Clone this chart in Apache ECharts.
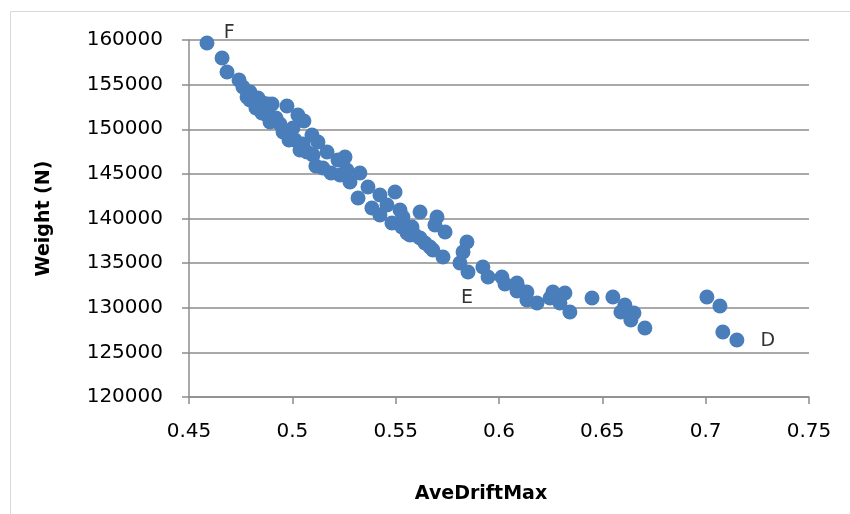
<!DOCTYPE html>
<html>
<head>
<meta charset="utf-8">
<script src="https://cdn.jsdelivr.net/npm/echarts@6/dist/echarts.min.js"></script>
<style>
html,body{margin:0;padding:0;background:#fff;}
#chart{width:850px;height:514px;}
</style>
</head>
<body>
<div id="chart"></div>
<script>
// AveDriftMax values
var driftX = [
0.4587,0.4660,0.4684,0.4742,0.4761,0.4795,0.4795,0.4834,0.4858,0.4882,
0.4877,0.4902,0.4974,0.5027,0.5056,0.4940,0.4955,0.4921,0.5013,0.5095,
0.5124,0.5071,0.5168,0.5148,0.5221,0.5255,0.5264,0.5231,0.5327,0.5279,
0.5366,0.5318,0.5424,0.5497,0.5385,0.5458,0.5424,0.5521,0.5482,0.5530,
0.5618,0.5579,0.5569,0.5700,0.5690,0.5739,0.5618,0.5666,0.5729,0.5535,
0.5555,0.5593,0.5642,0.5680,0.5845,0.5826,0.5811,0.5850,0.5922,0.5947,
0.6014,0.6029,0.6087,0.6087,0.6101,0.6135,0.6135,0.6184,0.6261,0.6247,
0.6319,0.6295,0.6343,0.6450,0.6551,0.6609,0.6590,0.6653,0.6638,0.6706,
0.7006,0.7069,0.7083,0.7151,
0.5003,0.5052,0.5100,0.5187,0.5114,0.4781,0.4824,0.4853,0.4892,0.4984,0.5037
];
// Weight (N) values
var weightY = [
159660,157980,156420,155520,154730,154170,153280,153500,152940,152830,
151600,152830,152600,151600,150930,150590,149690,151260,148800,149360,
148570,147450,147450,145660,146560,146890,145440,144880,145100,144090,
143530,142300,142630,142970,141180,141510,140390,140950,139500,139050,
140730,139050,138150,140170,139270,138490,137820,136810,135690,140170,
138380,138150,137260,136470,137370,136250,135020,134010,134570,133450,
133450,132660,132770,131880,131990,131770,130870,130530,131770,131090,
131650,130530,129530,131090,131210,130310,129530,129410,128630,127730,
131210,130200,127290,126390,
150140,148350,147120,145100,145880,153610,152380,151820,150810,148800,147680
];
// Point annotations (label text and where the text sits in data units)
var noteText = ['F','E','D'];
var noteX = [0.4694,0.5845,0.7301];
var noteY = [160790,131090,126280];
// Axis ticks
var xTicks = [0.45,0.5,0.55,0.6,0.65,0.7,0.75];
var yTicks = [120000,125000,130000,135000,140000,145000,150000,155000,160000];

var pts = driftX.map(function(x,i){return [x, weightY[i]];});
var notes = noteText.map(function(t,i){return {name:t, value:[noteX[i], noteY[i]]};});

var chart = echarts.init(document.getElementById('chart'), null, {renderer:'canvas'});
var gridColor = '#8c8c8c';
var tickFont = 'DejaVu Sans';
chart.setOption({
  animation:false,
  backgroundColor:'#ffffff',
  graphic:[{type:'rect', shape:{x:10.5,y:11.5,width:860,height:520}, style:{fill:'none', stroke:'#d9d9d9', lineWidth:1}, silent:true}],
  grid:{left:189, right:41, top:40, bottom:117, containLabel:false},
  xAxis:{
    type:'value', min:xTicks[0], max:xTicks[xTicks.length-1], interval:0.05,
    name:'AveDriftMax', nameLocation:'middle', nameGap:88,
    nameTextStyle:{fontFamily:tickFont, fontWeight:'bold', fontSize:19, color:'#000', padding:[0,36,0,0]},
    axisLine:{show:true, lineStyle:{color:gridColor, width:1.5}},
    axisTick:{show:true, length:7, lineStyle:{color:gridColor, width:1.5}},
    axisLabel:{margin:25, fontFamily:tickFont, fontSize:20, color:'#000',
      formatter:function(v){return String(+v.toFixed(2));}},
    splitLine:{show:false}
  },
  yAxis:{
    type:'value', min:yTicks[0], max:yTicks[yTicks.length-1], interval:5000,
    name:'Weight (N)', nameLocation:'middle', nameGap:135, nameRotate:90,
    nameTextStyle:{fontFamily:tickFont, fontWeight:'bold', fontSize:19, color:'#000'},
    axisLine:{show:true, lineStyle:{color:gridColor, width:1.5}},
    axisTick:{show:true, length:7, lineStyle:{color:gridColor, width:1.5}},
    axisLabel:{margin:26, fontFamily:tickFont, fontSize:20, color:'#000',
      formatter:function(v){return String(v);}},
    splitLine:{show:true, lineStyle:{color:gridColor, width:1.5}}
  },
  series:[
    {type:'scatter', data:pts, symbol:'circle', symbolSize:15,
     itemStyle:{color:'#4a7ebb', opacity:1}, clip:false},
    {type:'scatter', data:notes, symbolSize:0, clip:false,
     label:{show:true, formatter:'{b}', position:'inside', fontFamily:tickFont, fontSize:19, color:'#000'},
     itemStyle:{color:'transparent'}}
  ]
});
</script>
</body>
</html>
